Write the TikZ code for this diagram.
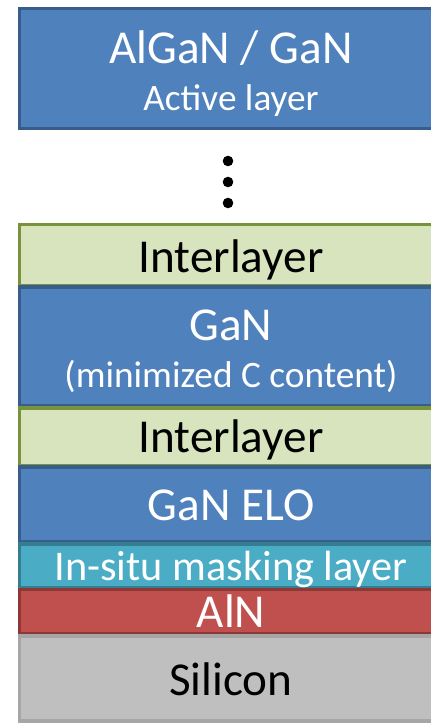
\documentclass[tikz,border=0pt]{standalone}
\usepackage{fontspec}
\setmainfont{Carlito}
\definecolor{gblue}{HTML}{4F81BD}
\definecolor{gblueb}{HTML}{385D8A}
\definecolor{ggreen}{HTML}{D7E4BD}
\definecolor{ggreenb}{HTML}{77933C}
\definecolor{gcyan}{HTML}{4BACC6}
\definecolor{gcyanb}{HTML}{357D91}
\definecolor{gred}{HTML}{C0504D}
\definecolor{gredb}{HTML}{8C3836}
\definecolor{ggray}{HTML}{BFBFBF}
\definecolor{ggrayb}{HTML}{A6A6A6}
\tikzset{
  layerbox/.style={line width=3.4pt},
  bluelayer/.style={layerbox, fill=gblue, draw=gblueb},
  greenlayer/.style={layerbox, fill=ggreen, draw=ggreenb},
  cyanlayer/.style={layerbox, fill=gcyan, draw=gcyanb},
  redlayer/.style={layerbox, fill=gred, draw=gredb},
  graylayer/.style={layerbox, fill=ggray, draw=ggrayb},
  big/.style={anchor=base, inner sep=0pt, font=\fontsize{47.2}{50}\selectfont},
  mid/.style={anchor=base, inner sep=0pt, font=\fontsize{42.3}{45}\selectfont},
  small/.style={anchor=base, inner sep=0pt, font=\fontsize{37.3}{40}\selectfont},
  dotmark/.style={fill=black, draw=none}
}
\begin{document}
\begin{tikzpicture}[x=1pt, y=-1pt]
\useasboundingbox (0,0) rectangle (431,724);
\begin{scope}
\clip (0,0) rectangle (431,724);
\path[bluelayer] (19.7,8.7) rectangle (445,128.5);
\path[greenlayer] (19.7,224.7) rectangle (445,286);
\path[bluelayer] (19.7,287) rectangle (445,406);
\path[greenlayer] (19.7,408) rectangle (445,466);
\path[bluelayer] (19.7,467) rectangle (445,542);
\path[cyanlayer] (19.7,544) rectangle (445,588);
\path[redlayer] (19.7,589.5) rectangle (445,634);
\path[graylayer] (19.7,636) rectangle (445,721);
\end{scope}
\node[big, text=white] (active1) at (231,63) {AlGaN / GaN};
\node[small, text=white] (active2) at (231,110) {Active layer};
\fill[dotmark] (228,161) circle (5.3);
\fill[dotmark] (228,182) circle (5.3);
\fill[dotmark] (228,203) circle (5.3);
\node[big, text=black] (inter1) at (231,272) {Interlayer};
\node[big, text=white] (gan1) at (231,340) {GaN};
\node[small, text=white] (gan2) at (231,387) {(minimized C content)};
\node[big, text=black] (inter2) at (231,452) {Interlayer};
\node[big, text=white] (elo) at (231,520) {GaN ELO};
\node[mid, text=white] (mask) at (231,580) {In-situ masking layer};
\node[big, text=white] (aln) at (231,627) {AlN};
\node[big, text=black] (si) at (231,695) {Silicon};
\end{tikzpicture}
\end{document}
